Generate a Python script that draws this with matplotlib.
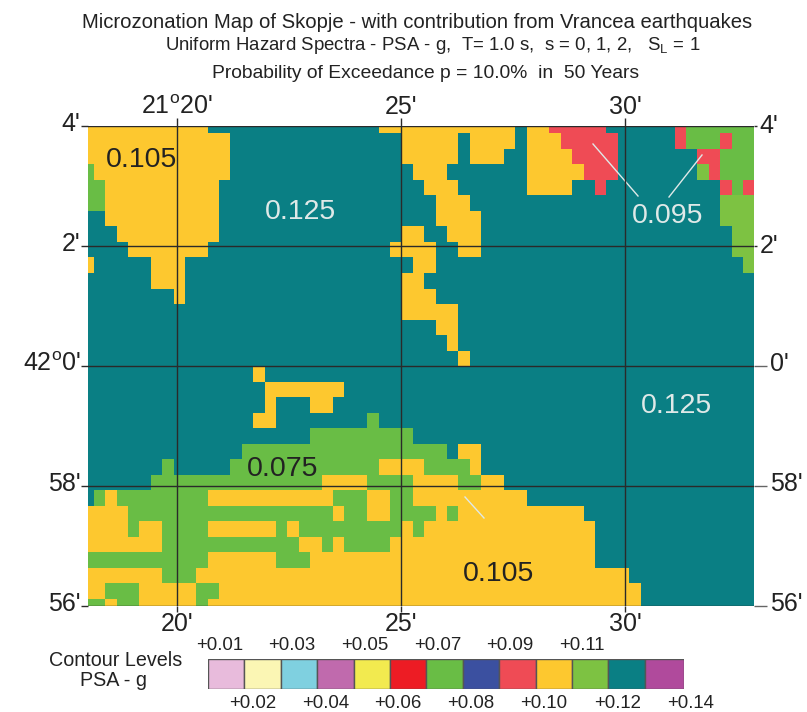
import numpy as np
import matplotlib
matplotlib.use("Agg")
import matplotlib.pyplot as plt
from matplotlib.colors import ListedColormap, BoundaryNorm
from matplotlib.transforms import Affine2D, ScaledTranslation

plt.rcParams['font.family'] = ['Liberation Sans', 'DejaVu Sans']
plt.rcParams['mathtext.fontset'] = 'custom'
plt.rcParams['mathtext.rm'] = 'Liberation Sans'

# ---- data -----------------------------------------------------------------
title_lines = ["Microzonation Map of Skopje - with contribution from Vrancea earthquakes",
               "Uniform Hazard Spectra - PSA - g,  T= 1.0 s,  s = 0, 1, 2,   S$_{\\mathrm{L}}$ = 1",
               "Probability of Exceedance p = 10.0%  in  50 Years"]
lon_ticks = [20, 25, 30]
lat_ticks = [-4, -2, 0, 2, 4]
top_labels = ["21$^{\\mathrm{o}}$20'", "25'", "30'"]
bottom_labels = ["20'", "25'", "30'"]
left_labels = ["56'", "58'", "42$^{\\mathrm{o}}$0'", "2'", "4'"]
right_labels = ["56'", "58'", "0'", "2'", "4'"]

legend_levels = [0.01, 0.02, 0.03, 0.04, 0.05, 0.06, 0.07, 0.08, 0.09, 0.10, 0.11, 0.12, 0.14]
legend_colors = ['#e8bbdc', '#fbf6b4', '#7fd0e0', '#c06aad', '#f2ea4f', '#ed1c24', '#69bd45',
                 '#3b50a0', '#ef4b55', '#fdc82f', '#7dc242', '#0a7f84', '#b04a9c']
legend_top = ['+0.01', '+0.03', '+0.05', '+0.07', '+0.09', '+0.11']
legend_bottom = ['+0.02', '+0.04', '+0.06', '+0.08', '+0.10', '+0.12', '+0.14']

# zone code -> PSA contour level
zones = {'T': 0.12, 'Y': 0.10, 'G': 0.07, 'L': 0.11, 'R': 0.09}

# map rows from north to south: runs of cells over the teal background
rows = [
    "Y0-10 Y26-37 Y39-40 R41-45 R52 G53-58",
    "Y0-12 Y28-32 Y34-37 Y39-41 R42-46 R52 G53-55 R56 G57-58",
    "Y0-12 Y28-32 Y34-36 Y39-42 R43-46 R54-55 G56-58",
    "G0 Y1-12 Y29-31 Y39-43 R44-46 L54 R55 G56-58",
    "G0-1 Y2-11 Y30-32 Y39-42 R45 R56 G57 R58",
    "G0-1 Y2-11 Y31-33 L56-58",
    "Y2-11 Y31-34 L56-58",
    "Y3-11 Y28-29 Y32-34 L57-58",
    "Y4-10 Y27-30 Y33-34 L57-58",
    "Y0 Y6-8 Y29-30 L58",
    "Y6-8 Y28-29",
    "Y8 Y28-30",
    "Y28-32",
    "Y31-32",
    "Y32",
    "Y33",
    "Y15",
    "Y16-22",
    "Y16 Y20-21",
    "Y15-16 G25",
    "G20-28",
    "G14-31 Y33-34",
    "G7 G13-25 Y26-29 G30-33 Y34",
    "G6-20 Y21-24 G25-28 Y29-32 G33-34 Y35-36",
    "G1 Y2 G3-10 Y11-21 G22-24 Y25-26 G27-28 Y29-38",
    "Y0-3 G4-21 Y22 G23-24 Y25-26 G27-30 Y31 G32 Y33-43",
    "Y0-3 G4 Y5-6 G7-10 Y11-16 G17 Y18 G19-27 Y28 G29 Y30-44",
    "Y0-6 G7-18 Y19-20 G21 Y22 G23-26 Y27-44",
    "G0-10 Y11-16 G17-19 Y20-44",
    "Y0-6 G7-9 Y10-47",
    "Y0-1 G2-4 Y5-9 G10-11 Y12-48",
    "G0-1 Y2 G3-4 Y5-9 G10 Y11-48",
]
n_cols = 59
n_rows = len(rows)

map_labels = [("0.105", 141.5, 160, '#222222'), ("0.125", 300, 212, '#dfe9e8'),
              ("0.095", 668, 216, '#dfe9e8'), ("0.125", 676, 406, '#dfe9e8'),
              ("0.075", 283, 469.5, '#222222'), ("0.105", 499, 574, '#222222')]
leaders = [((593, 144), (638, 196)), ((702, 155), (669, 197)), ((465, 497), (484, 518))]

# ---- build grid -----------------------------------------------------------
grid = np.full((n_rows, n_cols), zones['T'])
for r, spec in enumerate(rows):
    for run in spec.split():
        code, span = run[0], run[1:]
        first, last = span.split('-') if '-' in span else (span, span)
        grid[r, int(first):int(last) + 1] = zones[code]

W, H = 807, 712
fig = plt.figure(figsize=(W / 100, H / 100), dpi=100, facecolor='white')
px = Affine2D().scale(1 / W, -1 / H).translate(0, 1) + fig.transFigure

AX_L, AX_R, AX_T, AX_B = 88, 754, 126, 606
ax = fig.add_axes([AX_L / W, 1 - AX_B / H, (AX_R - AX_L) / W, (AX_B - AX_T) / H])

lon_min, lon_max = 20 - 89 / 44.8, 20 + 577 / 44.8
lat_min, lat_max = -4.0, 4.0
lon_step = 11.39 / 44.8
lat_step = 15.52 / 60
lon_edges = np.r_[lon_min, lon_min + 5.8 / 44.8 + lon_step * np.arange(n_cols - 1), lon_max]
lat_edges = np.r_[lat_max, lat_max - 7.3 / 60 - lat_step * np.arange(n_rows - 1), lat_min]

cmap = ListedColormap(legend_colors)
bounds = [0.005] + [(a + b) / 2 for a, b in zip(legend_levels[:-1], legend_levels[1:])] + [0.15]
norm = BoundaryNorm(bounds, cmap.N)
ax.pcolormesh(lon_edges, lat_edges, grid, cmap=cmap, norm=norm, shading='flat', linewidth=0,
              antialiased=False, rasterized=True)
ax.set_xlim(lon_min, lon_max)
ax.set_ylim(lat_min, lat_max)

line_c = '#2a2a2a'
text_c = '#222222'
for s in ax.spines.values():
    s.set_visible(False)
ax.grid(True, color=line_c, lw=1.0)
ax.set_axisbelow(False)
TICK_FS = 18

ax.set_xticks(lon_ticks, bottom_labels)
ax.set_yticks(lat_ticks, left_labels)
ax.tick_params(axis='x', length=4, width=1.0, color=line_c, labelsize=TICK_FS, pad=0, labelcolor=text_c)
ax.tick_params(axis='y', length=5, width=1.0, color=line_c, labelsize=TICK_FS, pad=0.5, labelcolor=text_c)

sx = ax.secondary_xaxis('top')
sx.set_xticks(lon_ticks, top_labels)
sx.tick_params(length=6, width=1.0, color=line_c, labelsize=TICK_FS, pad=-1, labelcolor=text_c)
# right side: long grey ticks in the south, short ticks in the north
sy_far = ax.secondary_yaxis('right')
sy_far.set_yticks(lat_ticks[:3], right_labels[:3])
sy_far.tick_params(length=9.4, width=1.0, color='#666666', labelsize=TICK_FS, pad=2, labelcolor=text_c)
sy_near = ax.secondary_yaxis('right')
sy_near.set_yticks(lat_ticks[3:], right_labels[3:])
sy_near.tick_params(length=2, width=1.0, color=line_c, labelsize=TICK_FS, pad=2, labelcolor=text_c)
for a in (sx, sy_far, sy_near):
    for s in a.spines.values():
        s.set_visible(False)
def lift(labels, pts):
    shift = ScaledTranslation(0, pts / 72, fig.dpi_scale_trans)
    for lab in labels:
        lab.set_transform(lab.get_transform() + shift)
lift(ax.get_yticklabels(), 3.2)
lift(sy_far.get_yticklabels(), 3.0)
lift(sy_near.get_yticklabels(), 2.0)

for (x0, y0), (x1, y1) in leaders:
    ax.plot([x0, x1], [y0, y1], color='#dfe9e8', lw=1.0, transform=px, clip_on=False)
for s, x, y, c in map_labels:
    fig.text(x, y, s, transform=px, ha='center', va='center', fontsize=20.5, color=c)

for s, x, y, fs in zip(title_lines, [417, 433, 426], [22, 46, 73], [14.6, 13.4, 13.85]):
    fig.text(x, y, s, transform=px, ha='center', va='center', fontsize=fs, color=text_c)

# ---- legend ---------------------------------------------------------------
lg = fig.add_axes([208 / W, 1 - 689 / H, (684 - 208) / W, 30 / H])
widths = np.r_[np.full(12, 36.4), 39.2]
lg.bar(np.cumsum(np.r_[0, widths[:-1]]), np.ones(13), width=widths, align='edge',
       color=legend_colors, edgecolor='#555555', linewidth=1.0)
lg.set_xlim(0, widths.sum())
lg.set_ylim(0, 1)
lg.axis('off')
fig.text(116, 661, "Contour Levels", transform=px, ha='center', va='center', fontsize=14.2, color=text_c)
fig.text(114, 681, "PSA - g", transform=px, ha='center', va='center', fontsize=14.2, color=text_c)
top_x = [220, 292, 365, 438, 510, 582]
bot_x = [253, 326, 398, 471, 544, 618, 691]
for s, x in zip(legend_top, top_x):
    fig.text(x, 645, s, transform=px, ha='center', va='center', fontsize=13.4, color=text_c)
for s, x in zip(legend_bottom, bot_x):
    fig.text(x, 703, s, transform=px, ha='center', va='center', fontsize=13.4, color=text_c)

fig.savefig('out.png', dpi=100, facecolor='white')
